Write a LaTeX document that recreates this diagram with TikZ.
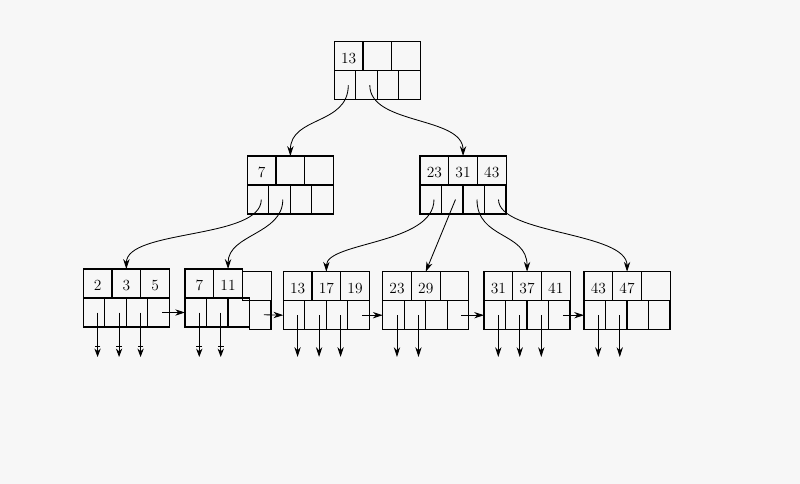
\documentclass[tikz,border=0pt]{standalone}
\usetikzlibrary{positioning,arrows.meta}
% one tree node: 3 key cells on top, 4 pointer cells below
\newcommand\bnode[7][]{%
  \node[key, anchor=north west] (#2-k1) at (#3,#4) {#5};
  \node[key, right=0pt of #2-k1] (#2-k2) {#6};
  \node[key, right=0pt of #2-k2, #1] (#2-k3) {#7};
  \node[ptr, anchor=north west] (#2-p1) at (#2-k1.south west) {};
  \node[ptr, right=0pt of #2-p1] (#2-p2) {};
  \node[ptr, right=0pt of #2-p2] (#2-p3) {};
  \node[ptr, right=0pt of #2-p3, #1] (#2-p4) {};
}
\begin{document}
\begin{tikzpicture}[x=0.025cm, y=-0.025cm,
    every node/.style={font=\fontsize{11}{13}\selectfont},
    key/.style={draw, line width=0.8pt, minimum width=0.7175cm, minimum height=0.725cm,
      inner sep=0pt, outer sep=0pt, text height=10.5pt},
    ptr/.style={draw, line width=0.8pt, minimum width=0.5375cm, minimum height=0.725cm,
      inner sep=0pt, outer sep=0pt},
    link/.style={->, >={Stealth[length=7pt, width=4.5pt]}, line width=0.6pt},
    leafptr/.style={link},
    leafptrbar/.style={-{Bar[width=4pt, sep=1pt]Stealth[length=6pt, width=4.5pt]}, line width=0.6pt}]
\fill[black!3] (0,0) rectangle (800,484);
\coordinate (bot) at (0,357);
\bnode{r}{334.3}{41.7}{13}{}{}
\bnode{a}{247.3}{156}{7}{}{}
\bnode{b}{420}{156}{23}{31}{43}
\bnode{l1}{83.3}{269}{2}{3}{5}
\bnode[yshift=-1.6pt]{l2}{185}{269}{7}{11}{}
\bnode{l3}{283.3}{271.7}{13}{17}{19}
\bnode{l4}{382.7}{271.7}{23}{29}{}
\bnode{l5}{484}{271.7}{31}{37}{41}
\bnode{l6}{584}{271.7}{43}{47}{}
% root to level 2
\draw[link] ([xshift=2.3pt]r-p1.center) .. controls +(0,40) and +(0,-40) .. (a-k2.north);
\draw[link] ([xshift=2.3pt]r-p2.center) .. controls +(0,40) and +(0,-40) .. (b-k2.north);
% level 2 to leaves
\draw[link] ([xshift=2.3pt]a-p1.center) .. controls +(0,40) and +(0,-40) .. (l1-k2.north);
\draw[link] ([xshift=2.3pt]a-p2.center) .. controls +(0,35) and +(0,-35) .. (l2-k2.north);
\draw[link] ([xshift=2.3pt]b-p1.center) .. controls +(0,45) and +(0,-30) .. (l3-k2.north);
\draw[link] ([xshift=2.3pt]b-p2.center) -- (l4-k2.north);
\draw[link] ([xshift=2.3pt]b-p3.center) .. controls +(0,40) and +(0,-40) .. (l5-k2.north);
\draw[link] ([xshift=2.3pt]b-p4.center) .. controls +(0,35) and +(0,-40) .. (l6-k2.north);
% leaf chain
\foreach \i/\j in {l1/l2, l2/l3, l3/l4, l4/l5, l5/l6}
  \draw[link] ([xshift=2.5pt]\i-p4.center) -- (\j-p1.west);
% record pointers
\foreach \n/\p in {l1/p1, l1/p2, l1/p3, l2/p1, l2/p2}
  \draw[leafptrbar] ([xshift=2.5pt]\n-\p.center) -- ([xshift=2.5pt]\n-\p.center |- bot);
\foreach \n/\p in {l3/p1, l3/p2, l3/p3, l4/p1, l4/p2, l5/p1, l5/p2, l5/p3, l6/p1, l6/p2}
  \draw[leafptr] ([xshift=2.5pt]\n-\p.center) -- ([xshift=2.5pt]\n-\p.center |- bot);
\end{tikzpicture}
\end{document}
